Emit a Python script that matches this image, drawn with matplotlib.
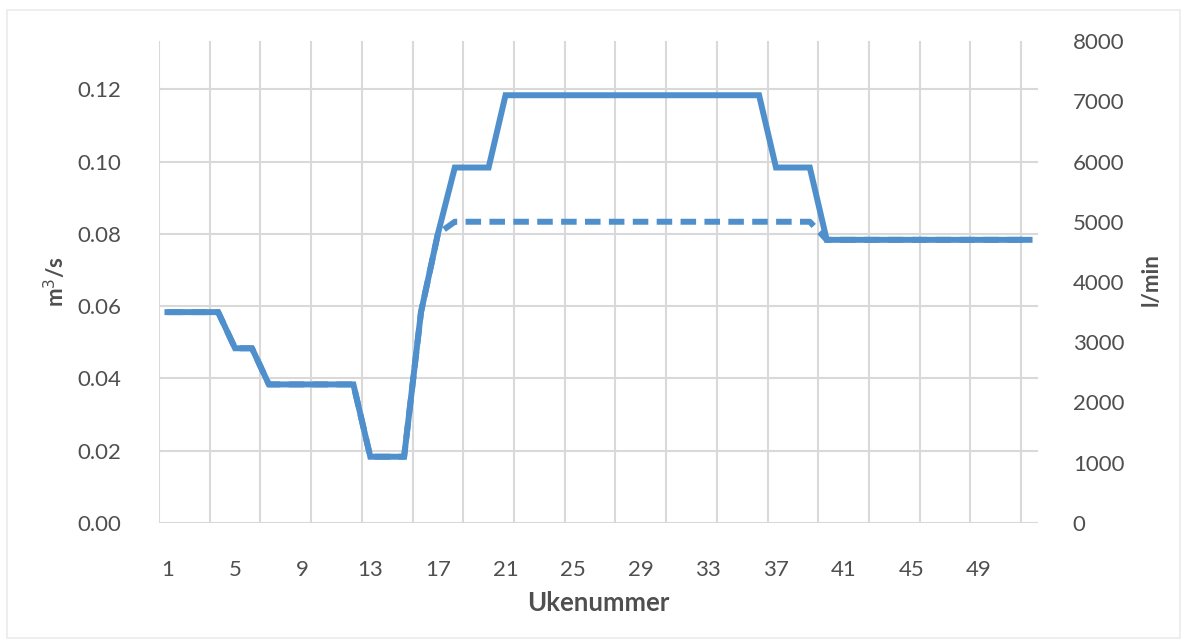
import matplotlib
matplotlib.use("Agg")
import matplotlib.pyplot as plt
import matplotlib.patches as mpatches
import numpy as np

# ---- data (l/min) ----
weeks = list(range(1, 53))
solid_lpm = ([3500] * 4 + [2900] * 2 + [2300] * 6 + [1100] * 3 + [3500, 4800]
             + [5900] * 3 + [7100] * 16 + [5900] * 3 + [4700] * 13)
dashed_lpm = ([3500] * 4 + [2900] * 2 + [2300] * 6 + [1100] * 3 + [3500, 4800]
              + [5000] * 22 + [4700] * 13)
xtick_labels = [str(w) for w in range(1, 53, 4)]
left_ticks = [0.00, 0.02, 0.04, 0.06, 0.08, 0.10, 0.12]
right_ticks = list(range(0, 8001, 1000))

line_color = "#4F8FCC"
text_color = "#4F4F4F"
grid_color = "#D9D9D9"
font = ["Lato", "DejaVu Sans"]

plt.rcParams["font.family"] = font

fig = plt.figure(figsize=(11.92, 6.44), dpi=100)
fig.patch.set_facecolor("white")

# faint chart border
fig.patches.append(mpatches.Rectangle((7 / 1192, 1 - 638 / 644), (1180 - 7) / 1192, (638 - 10) / 644,
                                      transform=fig.transFigure, fill=False,
                                      edgecolor="#EBEBEB", linewidth=1.2))

ax = fig.add_axes([159 / 1192, 1 - 523 / 644, (1038 - 159) / 1192, (523 - 41) / 644])
ax2 = ax.twinx()

ymax_lpm = 8000
ax2.set_ylim(0, ymax_lpm)
ax.set_ylim(0, ymax_lpm / 60000.0)
ax.set_xlim(0.5, 52.5)
ax2.set_xlim(0.5, 52.5)

# gridlines
ax.set_yticks(left_ticks)
ax.set_yticklabels([f"{v:.2f}" for v in left_ticks])
ax.yaxis.grid(True, color=grid_color, linewidth=1.5)
ax.set_xticks(range(1, 53, 4))
ax.set_xticklabels(xtick_labels)
ax.set_xticks(np.arange(0.5, 52, 3), minor=True)
ax.xaxis.grid(True, which="minor", color=grid_color, linewidth=1.5)
ax.xaxis.grid(False, which="major")
ax.set_axisbelow(True)

ax2.set_yticks(right_ticks)
ax2.set_yticklabels([str(v) for v in right_ticks])

for a in (ax, ax2):
    for s in a.spines.values():
        s.set_visible(False)
    a.tick_params(axis="both", which="both", length=0, colors=text_color, labelsize=16)

ax.tick_params(axis="y", pad=27)
ax2.tick_params(axis="y", pad=25)
ax.tick_params(axis="x", pad=27)

ax2.plot(weeks, solid_lpm, color=line_color, linewidth=4.3, solid_joinstyle="miter",
         zorder=3)
ax2.plot(weeks, dashed_lpm, color=line_color, linewidth=4.3, linestyle=(0, (2.6, 1.4)),
         zorder=4)

fig.text(598 / 1192, 1 - 603 / 644, "Ukenummer", ha="center", va="center",
         fontsize=18.5, fontweight="bold", color=text_color)
fig.text(55 / 1192, 1 - 282 / 644, "m$^3$/s", ha="center", va="center", rotation=90,
         fontsize=16, fontweight="bold", color=text_color)
fig.text(1151 / 1192, 1 - 280 / 644, "l/min", ha="center", va="center", rotation=90,
         fontsize=16, fontweight="bold", color=text_color)

fig.savefig("out.png", dpi=100, facecolor="white")
